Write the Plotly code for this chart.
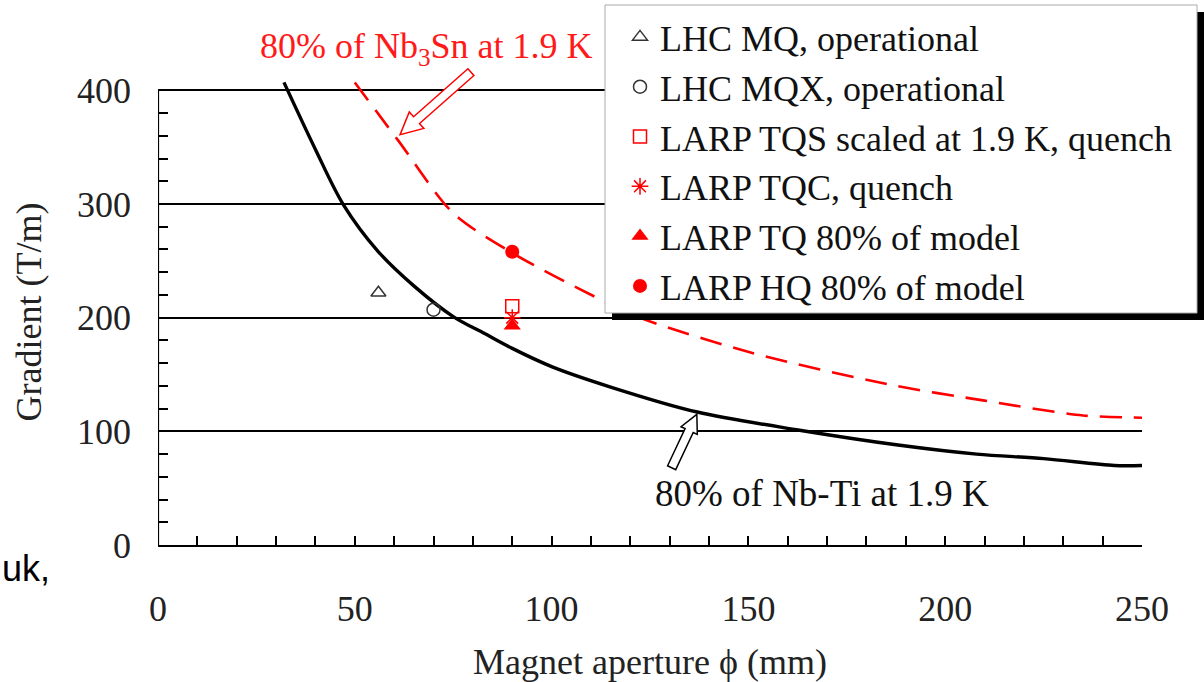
import plotly.graph_objects as go
import math

# ---------------- data ----------------
nbti_x = [32, 40, 47, 56, 65, 75, 83, 90, 100, 115, 137, 163, 188, 208, 225, 243, 250]
nbti_y = [407, 348, 300, 258, 228, 201, 186, 173, 157, 139, 117, 101, 88, 80, 76, 70, 70]

nb3sn_x = [50, 61, 75, 90, 113, 124, 151, 186, 210, 235, 250]
nb3sn_y = [407, 356, 292, 257, 215, 198, 169, 141, 127, 114, 112]

lhc_mq = ([56], [222])
lhc_mqx = ([70], [207])
tqs = ([90], [210])
tqc = ([90], [200])
tq = ([90], [193])
hq = ([90], [258])

x_ticks = [0, 50, 100, 150, 200, 250]
y_ticks = [0, 100, 200, 300, 400]

# ---------------- layout constants ----------------
W, H = 1204, 682
ML, MR, MT, MB = 158, 62, 79, 137
X_RANGE = [0, 250]
Y_RANGE = [0, 410]
PL, PR, PT, PB = ML, W - MR, MT, H - MB

SERIF = "Liberation Serif, Times New Roman, serif"
RED = "#ff0000"


def px_to_paper(px, py):
    return (px - PL) / (PR - PL), (PB - py) / (PB - PT)


def data_to_px(x, y):
    px = PL + (x - X_RANGE[0]) / (X_RANGE[1] - X_RANGE[0]) * (PR - PL)
    py = PB - (y - Y_RANGE[0]) / (Y_RANGE[1] - Y_RANGE[0]) * (PB - PT)
    return px, py


def hollow_arrow(tail, head, shaft_w, head_w, head_len):
    tx, ty = data_to_px(*tail)
    hx, hy = data_to_px(*head)
    dx, dy = hx - tx, hy - ty
    L = math.hypot(dx, dy)
    ux, uy = dx / L, dy / L
    nx, ny = -uy, ux
    bx, by = hx - ux * head_len, hy - uy * head_len
    pts = [
        (tx + nx * shaft_w / 2, ty + ny * shaft_w / 2),
        (bx + nx * shaft_w / 2, by + ny * shaft_w / 2),
        (bx + nx * head_w / 2, by + ny * head_w / 2),
        (hx, hy),
        (bx - nx * head_w / 2, by - ny * head_w / 2),
        (bx - nx * shaft_w / 2, by - ny * shaft_w / 2),
        (tx - nx * shaft_w / 2, ty - ny * shaft_w / 2),
    ]
    pp = [px_to_paper(px, py) for px, py in pts]
    return "M " + " L ".join(f"{a:.5f},{b:.5f}" for a, b in pp) + " Z"


fig = go.Figure()

fig.add_trace(go.Scatter(x=nbti_x, y=nbti_y, mode="lines", showlegend=False,
                         line=dict(color="black", width=3.4, shape="spline", smoothing=0.9)))
fig.add_trace(go.Scatter(x=nb3sn_x, y=nb3sn_y, mode="lines", showlegend=False,
                         line=dict(color=RED, width=2.6, dash="22px,12px", shape="spline", smoothing=0.8)))

markers = [
    ("LHC MQ, operational", lhc_mq, dict(symbol="triangle-up-open", size=13, color="#333333", line=dict(width=1.5))),
    ("LHC MQX, operational", lhc_mqx, dict(symbol="circle-open", size=13, color="#333333", line=dict(width=1.5))),
    ("LARP TQS scaled at 1.9 K, quench", tqs, dict(symbol="square-open", size=13, color=RED, line=dict(width=1.5))),
    ("LARP TQC, quench", tqc, dict(symbol="asterisk-open", size=14, color=RED, line=dict(width=1.5, color=RED))),
    ("LARP TQ 80% of model", tq, dict(symbol="triangle-up", size=15, color=RED)),
    ("LARP HQ 80% of model", hq, dict(symbol="circle", size=14, color=RED)),
]
for i, (name, (xs, ys), mk) in enumerate(markers):
    fig.add_trace(go.Scatter(x=xs, y=ys, mode="markers", name=name, marker=mk,
                             legendgroup=f"g{i}", cliponaxis=False))

# legend box + shadow
bx0, by0 = px_to_paper(605, 313)
bx1, by1 = px_to_paper(1197, 5)
sx0, sy0 = px_to_paper(612, 320)
sx1, sy1 = px_to_paper(1204, 12)

shapes = [
    dict(type="line", xref="x", yref="y", x0=0, y0=0, x1=0, y1=400,
         line=dict(color="black", width=2.2), layer="above"),
    dict(type="rect", xref="paper", yref="paper", x0=sx0, y0=sy0, x1=sx1, y1=sy1,
         fillcolor="black", line=dict(width=0), layer="above"),
    dict(type="rect", xref="paper", yref="paper", x0=bx0, y0=by0, x1=bx1, y1=by1,
         fillcolor="white", line=dict(color="#aaaaaa", width=1), layer="above"),
    dict(type="path", xref="paper", yref="paper",
         path=hollow_arrow((79.5, 416), (61.5, 361), 9, 22, 22),
         fillcolor="white", line=dict(color=RED, width=1.5), layer="above"),
    dict(type="path", xref="paper", yref="paper",
         path=hollow_arrow((130.5, 68), (136.9, 115), 9, 18, 18),
         fillcolor="white", line=dict(color="black", width=1.5), layer="above"),
]

rtx, rty = px_to_paper(426, 48)
ukx, uky = px_to_paper(0, 568)
annotations = [
    dict(x=rtx, y=rty, xref="paper", yref="paper", text="80% of Nb<sub>3</sub>Sn at 1.9 K",
         showarrow=False, font=dict(family=SERIF, size=36, color="#ff1a1a"),
         xanchor="center", yanchor="middle"),
    dict(x=168.7, y=45, xref="x", yref="y", text="80% of Nb-Ti at 1.9 K",
         showarrow=False, font=dict(family=SERIF, size=37, color="#111111"),
         xanchor="center", yanchor="middle"),
    dict(x=ukx, y=uky, xref="paper", yref="paper", text="uk,", showarrow=False,
         font=dict(family="Liberation Sans, Arial, sans-serif", size=36, color="black"),
         xanchor="left", yanchor="middle"),
]

lx, ly = px_to_paper(620, 7)

fig.update_layout(
    width=W, height=H,
    margin=dict(l=ML, r=MR, t=MT, b=MB, pad=0, autoexpand=False),
    paper_bgcolor="white", plot_bgcolor="white",
    font=dict(family=SERIF, size=36, color="#222222"),
    shapes=shapes, annotations=annotations,
    showlegend=True,
    legend=dict(x=lx, y=ly, xanchor="left", yanchor="top", bgcolor="rgba(0,0,0,0)",
                borderwidth=0, font=dict(family=SERIF, size=36, color="#111111"),
                tracegroupgap=0, traceorder="normal"),
    xaxis=dict(range=X_RANGE, tickvals=x_ticks, ticktext=[str(v) for v in x_ticks],
               showgrid=False, zeroline=False, showline=True, linecolor="black", linewidth=2.2,
               ticks="inside", ticklen=9, tickwidth=1.8, tickcolor="black",
               minor=dict(dtick=10, ticks="inside", ticklen=9, tickwidth=1.8, tickcolor="black"),
               ticklabelstandoff=31,
               tickfont=dict(family=SERIF, size=36, color="#222222"),
               title=dict(text="Magnet aperture ϕ (mm)", standoff=22,
                          font=dict(family=SERIF, size=36, color="#222222")),
               automargin=False),
    yaxis=dict(range=Y_RANGE, tickvals=y_ticks, ticktext=[str(v) for v in y_ticks],
               showgrid=True, gridcolor="black", gridwidth=1.6, zeroline=False, showline=False,
               ticks="inside", ticklen=10, tickwidth=1.8, tickcolor="black",
               minor=dict(dtick=20, ticks="inside", ticklen=10, tickwidth=1.8, tickcolor="black"),
               ticklabelstandoff=26,
               tickfont=dict(family=SERIF, size=36, color="#222222"),
               title=dict(text="Gradient (T/m)", standoff=24,
                          font=dict(family=SERIF, size=36, color="#222222")),
               automargin=False),
)

fig.write_html("out.html")
